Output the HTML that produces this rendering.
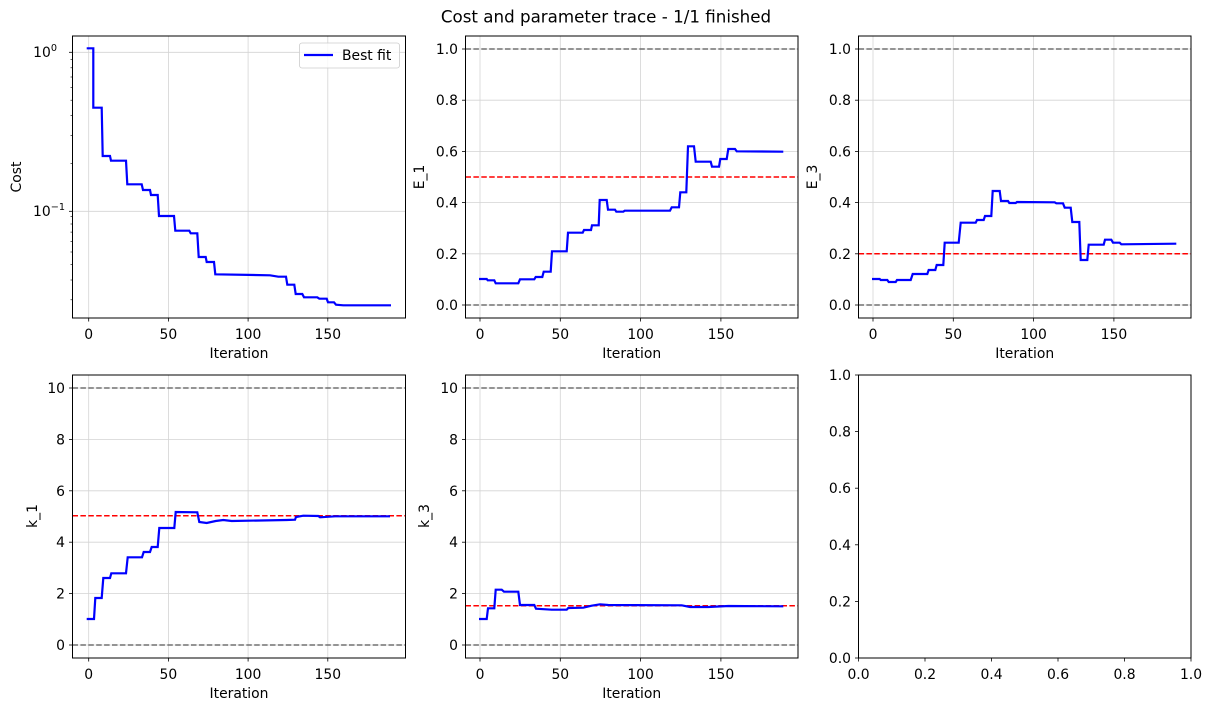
<!DOCTYPE html>
<html><head><meta charset="utf-8"><style>html,body{margin:0;padding:0;background:#fff}svg{display:block}</style></head><body>
<svg width="1211" height="711" viewBox="0 0 1211 711" xmlns="http://www.w3.org/2000/svg" font-family="DejaVu Sans, Liberation Sans, sans-serif" font-size="13.9">
<rect width="1211" height="711" fill="#fff"/>
<text x="606" y="22.5" text-anchor="middle" font-size="16.7">Cost and parameter trace - 1/1 finished</text>

<!-- ============ Panel 1 ============ -->
<g stroke="#d4d4d4" stroke-width="0.8">
<line x1="88.7" y1="36" x2="88.7" y2="318"/><line x1="168.4" y1="36" x2="168.4" y2="318"/><line x1="248.1" y1="36" x2="248.1" y2="318"/><line x1="327.8" y1="36" x2="327.8" y2="318"/>
<line x1="72.5" y1="52.3" x2="405.5" y2="52.3"/><line x1="72.5" y1="211.3" x2="405.5" y2="211.3"/>
</g>
<polyline fill="none" stroke="#0000ff" stroke-width="2.2" stroke-linejoin="miter" points="86.7,48.3 93.3,48.3 93.3,107.7 101.7,107.7 102.7,156 110,156 111,160.7 126,160.7 127.3,184.3 141.7,184.3 143,190 150,190 151,195 157.7,195 159,216 174,216 175.3,230.7 189.3,230.7 190.7,233.3 197.3,233.3 198.7,257 205.7,257 206.7,262 214,262 215.3,274.3 270,275.3 278.3,276.7 286,276.7 287.3,284.7 294.3,284.7 295.7,294 302.3,294 304,297.3 317.3,297.3 319.3,298.7 326.7,298.7 328,302.3 334,302.3 336,304.7 343.3,305.3 391,305.3"/>
<rect x="72.5" y="36" width="333" height="282" fill="none" stroke="#000" stroke-width="1"/>
<g stroke="#000" stroke-width="0.8">
<line x1="88.7" y1="318" x2="88.7" y2="321.5"/><line x1="168.4" y1="318" x2="168.4" y2="321.5"/><line x1="248.1" y1="318" x2="248.1" y2="321.5"/><line x1="327.8" y1="318" x2="327.8" y2="321.5"/>
<line x1="72.5" y1="52.3" x2="69" y2="52.3"/><line x1="72.5" y1="211.3" x2="69" y2="211.3"/>
</g>
<g stroke="#000" stroke-width="0.6">
<line x1="72.5" y1="299.8" x2="70.5" y2="299.8"/><line x1="72.5" y1="280" x2="70.5" y2="280"/><line x1="72.5" y1="264.5" x2="70.5" y2="264.5"/><line x1="72.5" y1="252" x2="70.5" y2="252"/><line x1="72.5" y1="241.3" x2="70.5" y2="241.3"/><line x1="72.5" y1="232.1" x2="70.5" y2="232.1"/><line x1="72.5" y1="224" x2="70.5" y2="224"/><line x1="72.5" y1="216.6" x2="70.5" y2="216.6"/>
<line x1="72.5" y1="163.4" x2="70.5" y2="163.4"/><line x1="72.5" y1="135.4" x2="70.5" y2="135.4"/><line x1="72.5" y1="115.6" x2="70.5" y2="115.6"/><line x1="72.5" y1="100.2" x2="70.5" y2="100.2"/><line x1="72.5" y1="87.6" x2="70.5" y2="87.6"/><line x1="72.5" y1="77" x2="70.5" y2="77"/><line x1="72.5" y1="67.8" x2="70.5" y2="67.8"/><line x1="72.5" y1="59.6" x2="70.5" y2="59.6"/>
</g>
<g text-anchor="middle"><text x="88.7" y="339">0</text><text x="168.4" y="339">50</text><text x="248.1" y="339">100</text><text x="327.8" y="339">150</text></g>
<text x="239" y="358" text-anchor="middle">Iteration</text>
<text x="57" y="57" text-anchor="end">10<tspan font-size="9.7" dy="-6">0</tspan></text>
<text x="65" y="216" text-anchor="end">10<tspan font-size="9.7" dy="-6">−1</tspan></text>
<text transform="translate(21,177) rotate(-90)" text-anchor="middle">Cost</text>
<rect x="299.5" y="43" width="100" height="25" rx="2.5" fill="#fff" fill-opacity="0.8" stroke="#ccc" stroke-width="0.8"/>
<line x1="304" y1="55" x2="333" y2="55" stroke="#0000ff" stroke-width="2.2"/>
<text x="342" y="60">Best fit</text>

<!-- ============ Panel 2 ============ -->
<g stroke="#d4d4d4" stroke-width="0.8">
<line x1="480" y1="36" x2="480" y2="318"/><line x1="560.3" y1="36" x2="560.3" y2="318"/><line x1="640.6" y1="36" x2="640.6" y2="318"/><line x1="720.9" y1="36" x2="720.9" y2="318"/>
<line x1="465.5" y1="305" x2="798" y2="305"/><line x1="465.5" y1="253.8" x2="798" y2="253.8"/><line x1="465.5" y1="202.6" x2="798" y2="202.6"/><line x1="465.5" y1="151.4" x2="798" y2="151.4"/><line x1="465.5" y1="100.2" x2="798" y2="100.2"/><line x1="465.5" y1="49" x2="798" y2="49"/>
</g>
<g stroke-width="1.5" stroke-dasharray="5.5,2.4"><line x1="465.5" y1="49" x2="798" y2="49" stroke="#707070"/><line x1="465.5" y1="305" x2="798" y2="305" stroke="#707070"/><line x1="465.5" y1="177" x2="798" y2="177" stroke="#ff0000"/></g>
<polyline fill="none" stroke="#0000ff" stroke-width="2.2" points="479,279 486.7,279 487.7,280.3 494.3,280.3 495.7,283.3 518.3,283.3 520,279.3 534.3,279.3 535.7,277 542.3,277 543.7,271.7 550.7,271.7 552,251.3 566.7,251.3 568,232.7 582.7,232.7 584,230 591,230 592,225.3 598.7,225.3 599.7,200 606.7,200 608,209.7 615,209.7 616.3,211.7 623.3,211.7 624.7,210.7 670,210.7 671.7,207.3 679,207.3 680.3,192.3 686.3,192.3 688,146.3 694,146.3 695.7,161.7 710.7,161.7 712,166.7 719,166.7 720.3,159 726.7,159 728.3,149 735,149 736.7,151.3 783.3,151.7"/>
<rect x="465.5" y="36" width="332.5" height="282" fill="none" stroke="#000" stroke-width="1"/>
<g stroke="#000" stroke-width="0.8">
<line x1="480" y1="318" x2="480" y2="321.5"/><line x1="560.3" y1="318" x2="560.3" y2="321.5"/><line x1="640.6" y1="318" x2="640.6" y2="321.5"/><line x1="720.9" y1="318" x2="720.9" y2="321.5"/>
<line x1="465.5" y1="305" x2="462" y2="305"/><line x1="465.5" y1="253.8" x2="462" y2="253.8"/><line x1="465.5" y1="202.6" x2="462" y2="202.6"/><line x1="465.5" y1="151.4" x2="462" y2="151.4"/><line x1="465.5" y1="100.2" x2="462" y2="100.2"/><line x1="465.5" y1="49" x2="462" y2="49"/>
</g>
<g text-anchor="middle"><text x="480" y="339">0</text><text x="560.3" y="339">50</text><text x="640.6" y="339">100</text><text x="720.9" y="339">150</text></g>
<text x="631.7" y="358" text-anchor="middle">Iteration</text>
<g text-anchor="end"><text x="458" y="310">0.0</text><text x="458" y="258.8">0.2</text><text x="458" y="207.6">0.4</text><text x="458" y="156.4">0.6</text><text x="458" y="105.2">0.8</text><text x="458" y="54">1.0</text></g>
<text transform="translate(424,177) rotate(-90)" text-anchor="middle">E_1</text>

<!-- ============ Panel 3 ============ -->
<g stroke="#d4d4d4" stroke-width="0.8">
<line x1="873" y1="36" x2="873" y2="318"/><line x1="953.3" y1="36" x2="953.3" y2="318"/><line x1="1033.6" y1="36" x2="1033.6" y2="318"/><line x1="1113.9" y1="36" x2="1113.9" y2="318"/>
<line x1="858.5" y1="305" x2="1191" y2="305"/><line x1="858.5" y1="253.8" x2="1191" y2="253.8"/><line x1="858.5" y1="202.6" x2="1191" y2="202.6"/><line x1="858.5" y1="151.4" x2="1191" y2="151.4"/><line x1="858.5" y1="100.2" x2="1191" y2="100.2"/><line x1="858.5" y1="49" x2="1191" y2="49"/>
</g>
<g stroke-width="1.5" stroke-dasharray="5.5,2.4"><line x1="858.5" y1="49" x2="1191" y2="49" stroke="#707070"/><line x1="858.5" y1="305" x2="1191" y2="305" stroke="#707070"/><line x1="858.5" y1="253.8" x2="1191" y2="253.8" stroke="#ff0000"/></g>
<polyline fill="none" stroke="#0000ff" stroke-width="2.2" points="872,279 879.7,279 880.7,280 887.3,280 888.7,282 895.7,282 897,280 910.7,280 912.7,274 927.3,274 928.7,270 935.3,270 936.7,265 943.3,265 944.7,242.7 958.7,242.7 960.7,222.7 975.7,222.7 977,220 983.7,220 985,216 991.3,216 992.7,191 999.7,191 1001,201 1008,201 1009.3,203 1015.7,203 1017,202 1054.7,202.3 1056.3,203.3 1063,203.3 1064.7,207.7 1070.7,207.7 1072.3,222 1079.3,222 1080.7,260 1087.3,260 1088.7,244.7 1103.7,244.7 1105,239.7 1111.3,239.7 1113,242.7 1119.7,242.7 1121.3,244.3 1176.3,243.7"/>
<rect x="858.5" y="36" width="332.5" height="282" fill="none" stroke="#000" stroke-width="1"/>
<g stroke="#000" stroke-width="0.8">
<line x1="873" y1="318" x2="873" y2="321.5"/><line x1="953.3" y1="318" x2="953.3" y2="321.5"/><line x1="1033.6" y1="318" x2="1033.6" y2="321.5"/><line x1="1113.9" y1="318" x2="1113.9" y2="321.5"/>
<line x1="858.5" y1="305" x2="855" y2="305"/><line x1="858.5" y1="253.8" x2="855" y2="253.8"/><line x1="858.5" y1="202.6" x2="855" y2="202.6"/><line x1="858.5" y1="151.4" x2="855" y2="151.4"/><line x1="858.5" y1="100.2" x2="855" y2="100.2"/><line x1="858.5" y1="49" x2="855" y2="49"/>
</g>
<g text-anchor="middle"><text x="873" y="339">0</text><text x="953.3" y="339">50</text><text x="1033.6" y="339">100</text><text x="1113.9" y="339">150</text></g>
<text x="1024.7" y="358" text-anchor="middle">Iteration</text>
<g text-anchor="end"><text x="851" y="310">0.0</text><text x="851" y="258.8">0.2</text><text x="851" y="207.6">0.4</text><text x="851" y="156.4">0.6</text><text x="851" y="105.2">0.8</text><text x="851" y="54">1.0</text></g>
<text transform="translate(817,177) rotate(-90)" text-anchor="middle">E_3</text>

<!-- ============ Panel 4 ============ -->
<g stroke="#d4d4d4" stroke-width="0.8">
<line x1="88.7" y1="375" x2="88.7" y2="658"/><line x1="168.4" y1="375" x2="168.4" y2="658"/><line x1="248.1" y1="375" x2="248.1" y2="658"/><line x1="327.8" y1="375" x2="327.8" y2="658"/>
<line x1="72.5" y1="645" x2="405.5" y2="645"/><line x1="72.5" y1="593.6" x2="405.5" y2="593.6"/><line x1="72.5" y1="542.2" x2="405.5" y2="542.2"/><line x1="72.5" y1="490.8" x2="405.5" y2="490.8"/><line x1="72.5" y1="439.4" x2="405.5" y2="439.4"/><line x1="72.5" y1="388" x2="405.5" y2="388"/>
</g>
<g stroke-width="1.5" stroke-dasharray="5.5,2.4"><line x1="72.5" y1="388" x2="405.5" y2="388" stroke="#707070"/><line x1="72.5" y1="645" x2="405.5" y2="645" stroke="#707070"/><line x1="72.5" y1="515.7" x2="405.5" y2="515.7" stroke="#ff0000"/></g>
<polyline fill="none" stroke="#0000ff" stroke-width="2.2" points="86.7,619 94,619 95.3,598 101.7,598 103.3,578 110,578 111.3,573.3 126,573.3 127.7,557.3 142,557.3 143.7,552 150,552 151.7,547 157.7,547 159.3,528 174.3,528 175.7,512 197.3,512.3 199.3,522 206.7,523 215.7,521 223.3,520 231.7,521 286.7,520 295,519.7 296,517 303.3,515.7 318.3,516 320,517.3 335,516.3 390,516.3"/>
<rect x="72.5" y="375" width="333" height="283" fill="none" stroke="#000" stroke-width="1"/>
<g stroke="#000" stroke-width="0.8">
<line x1="88.7" y1="658" x2="88.7" y2="661.5"/><line x1="168.4" y1="658" x2="168.4" y2="661.5"/><line x1="248.1" y1="658" x2="248.1" y2="661.5"/><line x1="327.8" y1="658" x2="327.8" y2="661.5"/>
<line x1="72.5" y1="645" x2="69" y2="645"/><line x1="72.5" y1="593.6" x2="69" y2="593.6"/><line x1="72.5" y1="542.2" x2="69" y2="542.2"/><line x1="72.5" y1="490.8" x2="69" y2="490.8"/><line x1="72.5" y1="439.4" x2="69" y2="439.4"/><line x1="72.5" y1="388" x2="69" y2="388"/>
</g>
<g text-anchor="middle"><text x="88.7" y="679">0</text><text x="168.4" y="679">50</text><text x="248.1" y="679">100</text><text x="327.8" y="679">150</text></g>
<text x="239" y="698" text-anchor="middle">Iteration</text>
<g text-anchor="end"><text x="65" y="650">0</text><text x="65" y="598.6">2</text><text x="65" y="547.2">4</text><text x="65" y="495.8">6</text><text x="65" y="444.4">8</text><text x="65" y="393">10</text></g>
<text transform="translate(37,516) rotate(-90)" text-anchor="middle">k_1</text>

<!-- ============ Panel 5 ============ -->
<g stroke="#d4d4d4" stroke-width="0.8">
<line x1="480" y1="375" x2="480" y2="658"/><line x1="560.3" y1="375" x2="560.3" y2="658"/><line x1="640.6" y1="375" x2="640.6" y2="658"/><line x1="720.9" y1="375" x2="720.9" y2="658"/>
<line x1="465.5" y1="645" x2="798" y2="645"/><line x1="465.5" y1="593.6" x2="798" y2="593.6"/><line x1="465.5" y1="542.2" x2="798" y2="542.2"/><line x1="465.5" y1="490.8" x2="798" y2="490.8"/><line x1="465.5" y1="439.4" x2="798" y2="439.4"/><line x1="465.5" y1="388" x2="798" y2="388"/>
</g>
<g stroke-width="1.5" stroke-dasharray="5.5,2.4"><line x1="465.5" y1="388" x2="798" y2="388" stroke="#707070"/><line x1="465.5" y1="645" x2="798" y2="645" stroke="#707070"/><line x1="465.5" y1="605.7" x2="798" y2="605.7" stroke="#ff0000"/></g>
<polyline fill="none" stroke="#0000ff" stroke-width="2.2" points="479,619 486.7,619 488,608.3 494.3,608.3 495.7,589.7 501.7,589.7 504,591.7 518.3,591.7 520,605 534.3,605 536,608.7 551.7,609.7 566.7,609.7 568.3,608 583.3,607.7 591.7,605.7 600,604.3 608.3,605 681.7,605.3 690,607 708.3,607 728.3,606 783.3,606.3"/>
<rect x="465.5" y="375" width="332.5" height="283" fill="none" stroke="#000" stroke-width="1"/>
<g stroke="#000" stroke-width="0.8">
<line x1="480" y1="658" x2="480" y2="661.5"/><line x1="560.3" y1="658" x2="560.3" y2="661.5"/><line x1="640.6" y1="658" x2="640.6" y2="661.5"/><line x1="720.9" y1="658" x2="720.9" y2="661.5"/>
<line x1="465.5" y1="645" x2="462" y2="645"/><line x1="465.5" y1="593.6" x2="462" y2="593.6"/><line x1="465.5" y1="542.2" x2="462" y2="542.2"/><line x1="465.5" y1="490.8" x2="462" y2="490.8"/><line x1="465.5" y1="439.4" x2="462" y2="439.4"/><line x1="465.5" y1="388" x2="462" y2="388"/>
</g>
<g text-anchor="middle"><text x="480" y="679">0</text><text x="560.3" y="679">50</text><text x="640.6" y="679">100</text><text x="720.9" y="679">150</text></g>
<text x="631.7" y="698" text-anchor="middle">Iteration</text>
<g text-anchor="end"><text x="458" y="650">0</text><text x="458" y="598.6">2</text><text x="458" y="547.2">4</text><text x="458" y="495.8">6</text><text x="458" y="444.4">8</text><text x="458" y="393">10</text></g>
<text transform="translate(429,516) rotate(-90)" text-anchor="middle">k_3</text>

<!-- ============ Panel 6 ============ -->
<rect x="858.5" y="375" width="332.5" height="283" fill="none" stroke="#000" stroke-width="1"/>
<g stroke="#000" stroke-width="0.8">
<line x1="858.5" y1="658" x2="858.5" y2="661.5"/><line x1="925" y1="658" x2="925" y2="661.5"/><line x1="991.5" y1="658" x2="991.5" y2="661.5"/><line x1="1058" y1="658" x2="1058" y2="661.5"/><line x1="1124.5" y1="658" x2="1124.5" y2="661.5"/><line x1="1191" y1="658" x2="1191" y2="661.5"/>
<line x1="858.5" y1="658" x2="855" y2="658"/><line x1="858.5" y1="601.4" x2="855" y2="601.4"/><line x1="858.5" y1="544.8" x2="855" y2="544.8"/><line x1="858.5" y1="488.2" x2="855" y2="488.2"/><line x1="858.5" y1="431.6" x2="855" y2="431.6"/><line x1="858.5" y1="375" x2="855" y2="375"/>
</g>
<g text-anchor="middle"><text x="858.5" y="679">0.0</text><text x="925" y="679">0.2</text><text x="991.5" y="679">0.4</text><text x="1058" y="679">0.6</text><text x="1124.5" y="679">0.8</text><text x="1191" y="679">1.0</text></g>
<g text-anchor="end"><text x="851" y="663">0.0</text><text x="851" y="606.4">0.2</text><text x="851" y="549.8">0.4</text><text x="851" y="493.2">0.6</text><text x="851" y="436.6">0.8</text><text x="851" y="380">1.0</text></g>
</svg>
</body></html>
